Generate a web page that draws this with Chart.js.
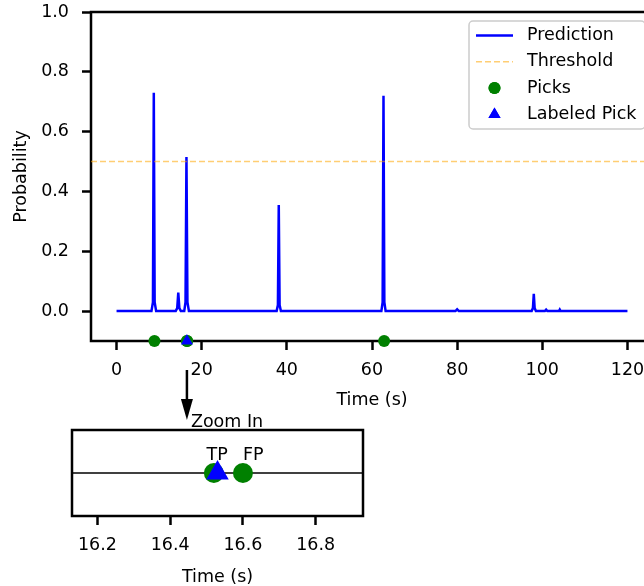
<!DOCTYPE html>
<html>
<head>
<meta charset="utf-8">
<script src="https://cdn.jsdelivr.net/npm/chart.js@4.4.1/dist/chart.umd.min.js"></script>
<style>
html, body { margin: 0; padding: 0; background: #fff; overflow: hidden; }
#wrap { position: relative; width: 644px; height: 586px; overflow: hidden; }
#mainChart { position: absolute; left: 0; top: 0; }
#zoomChart { position: absolute; left: 0; top: 380px; }
</style>
</head>
<body>
<div id="wrap">
  <canvas id="mainChart" width="660" height="440"></canvas>
  <canvas id="zoomChart" width="644" height="210"></canvas>
</div>
<script>
// prediction trace (time in s, probability)
var predTime = [0, 8.2, 8.55, 8.75, 8.95, 9.3, 13.9, 14.25, 14.5, 14.75, 15.1, 15.9, 16.2, 16.42, 16.65, 17.0,
                26, 37.6, 37.9, 38.1, 38.3, 38.6, 62.2, 62.5, 62.7, 62.9, 63.2,
                79.6, 80.0, 80.4, 97.5, 97.8, 98.0, 98.2, 98.5, 100.6, 100.9, 101.2, 103.9, 104.1, 104.3, 120];
var predProb = [0, 0, 0.03, 0.73, 0.03, 0, 0, 0.01, 0.062, 0.01, 0, 0, 0.03, 0.515, 0.03, 0,
                0, 0, 0.02, 0.355, 0.02, 0, 0, 0.03, 0.72, 0.03, 0,
                0, 0.006, 0, 0, 0.01, 0.058, 0.01, 0, 0, 0.005, 0, 0, 0.005, 0, 0];
var threshold = 0.5;
var pickTimes = [8.9, 16.52, 16.60, 62.85];
var labeledPickTimes = [16.53];
var pickLevel = -0.1;

var xLimits = [-6, 126];
var yLimits = [-0.1, 1.0];
var xTicks = [0, 20, 40, 60, 80, 100, 120];
var yTicks = [0.0, 0.2, 0.4, 0.6, 0.8, 1.0];
var legendLabels = ['Prediction', 'Threshold', 'Picks', 'Labeled Pick'];

// zoomed panel
var zoomLimits = [16.13, 16.93];
var zoomTicks = [16.2, 16.4, 16.6, 16.8];
var zoomLabels = ['TP', 'FP'];
var zoomLabelTimes = [16.50, 16.60];
var zoomTitle = 'Zoom In';

var FONT = 'DejaVu Sans';
var FONT_SIZE = 17.5;
var BLUE = '#0000ff';
var GREEN = '#008000';
var ORANGE = 'rgba(255,165,0,0.55)';

Chart.defaults.color = '#000';
Chart.defaults.font.family = FONT;
Chart.defaults.font.size = FONT_SIZE;
Chart.defaults.font.lineHeight = 1.2;

function pts(xs, ys) {
    var out = [];
    for (var i in xs) {
        out.push({ x: xs[i], y: (typeof ys === 'number') ? ys : ys[i] });
    }
    return out;
}

function setTicks(values) {
    return function(scale) {
        scale.ticks = values.map(function(v) { return { value: v }; });
    };
}

var tickGrid = { drawOnChartArea: false, drawTicks: true, tickLength: 9, tickWidth: 2.5, tickColor: '#000' };

var framePlugin = {
    id: 'frame',
    beforeDatasetsDraw: function(chart) {
        var a = chart.chartArea, ctx = chart.ctx;
        ctx.save();
        ctx.strokeStyle = '#000';
        ctx.lineWidth = 2.5;
        ctx.strokeRect(a.left, a.top, a.right - a.left, a.bottom - a.top);
        ctx.restore();
    }
};

var legendPlugin = {
    id: 'boxLegend',
    afterDraw: function(chart) {
        var ctx = chart.ctx, a = chart.chartArea;
        var w = 176, h = 108;
        var x0 = a.right - 8 - w, y0 = a.top + 9;
        ctx.save();
        ctx.beginPath();
        ctx.roundRect(x0, y0, w, h, 4);
        ctx.fillStyle = 'rgba(255,255,255,0.8)';
        ctx.fill();
        ctx.strokeStyle = '#cccccc';
        ctx.lineWidth = 1.5;
        ctx.stroke();

        ctx.font = FONT_SIZE + 'px "' + FONT + '"';
        ctx.textBaseline = 'middle';
        ctx.textAlign = 'left';
        for (var i = 0; i < legendLabels.length; i++) {
            var cy = y0 + 14.5 + i * 26.3;
            var hx = x0 + 7, hw = 37;
            if (i === 0 || i === 1) {
                ctx.beginPath();
                ctx.strokeStyle = i === 0 ? BLUE : ORANGE;
                ctx.lineWidth = i === 0 ? 2.5 : 1.5;
                ctx.setLineDash(i === 0 ? [] : [6, 3]);
                ctx.moveTo(hx, cy);
                ctx.lineTo(hx + hw, cy);
                ctx.stroke();
                ctx.setLineDash([]);
            } else {
                ctx.fillStyle = i === 2 ? GREEN : BLUE;
                Chart.helpers.drawPoint(ctx, { pointStyle: i === 2 ? 'circle' : 'triangle', radius: i === 2 ? 6 : 7, rotation: 0, borderWidth: 0 }, hx + hw / 2, cy);
                ctx.fill();
            }
            ctx.fillStyle = '#000';
            ctx.fillText(legendLabels[i], x0 + 58, cy);
        }

        // arrow down to the zoomed panel
        var ax = chart.scales.x.getPixelForValue(labeledPickTimes[0]);
        var top = a.bottom + 29, tip = a.bottom + 79;
        ctx.strokeStyle = '#000';
        ctx.lineWidth = 2.5;
        ctx.beginPath();
        ctx.moveTo(ax, top);
        ctx.lineTo(ax, tip - 18);
        ctx.stroke();
        ctx.fillStyle = '#000';
        ctx.beginPath();
        ctx.moveTo(ax - 6, tip - 21);
        ctx.lineTo(ax + 6, tip - 21);
        ctx.lineTo(ax, tip);
        ctx.closePath();
        ctx.fill();
        ctx.fillText(zoomTitle, ax + 4, tip + 2);
        ctx.restore();
    }
};

new Chart(document.getElementById('mainChart'), {
    type: 'scatter',
    data: {
        datasets: [{
            label: legendLabels[0],
            data: pts(predTime, predProb),
            showLine: true,
            borderColor: BLUE,
            borderWidth: 2.5,
            pointRadius: 0,
            order: 3
        }, {
            label: legendLabels[1],
            data: pts(xLimits, threshold),
            showLine: true,
            borderColor: ORANGE,
            borderWidth: 1.5,
            borderDash: [6, 3],
            pointRadius: 0,
            order: 2
        }, {
            label: legendLabels[2],
            data: pts(pickTimes, pickLevel),
            pointStyle: 'circle',
            pointRadius: 6,
            backgroundColor: GREEN,
            borderColor: GREEN,
            pointBorderWidth: 0,
            clip: false,
            order: 1
        }, {
            label: legendLabels[3],
            data: pts(labeledPickTimes, pickLevel),
            pointStyle: 'triangle',
            pointRadius: 7,
            backgroundColor: BLUE,
            borderColor: BLUE,
            pointBorderWidth: 0,
            clip: false,
            order: 0
        }]
    },
    options: {
        responsive: false,
        animation: false,
        layout: { padding: { left: 0, top: 12, right: 7, bottom: 0 } },
        plugins: { legend: { display: false }, tooltip: { enabled: false } },
        scales: {
            x: {
                type: 'linear',
                min: xLimits[0],
                max: xLimits[1],
                afterBuildTicks: setTicks(xTicks),
                afterFit: function(scale) { scale.height = 99; scale.paddingLeft = 0; scale.paddingRight = 0; },
                grid: tickGrid,
                border: { display: false },
                ticks: { padding: 10, maxRotation: 0, callback: function(v) { return String(v); } },
                title: { display: true, text: 'Time (s)', padding: { top: 0, bottom: 29 } }
            },
            y: {
                min: yLimits[0],
                max: yLimits[1],
                afterBuildTicks: setTicks(yTicks),
                afterFit: function(scale) { scale.width = 91; scale.paddingTop = 0; scale.paddingBottom = 0; },
                grid: tickGrid,
                border: { display: false },
                ticks: { padding: 13, callback: function(v) { return v.toFixed(1); } },
                title: { display: true, text: 'Probability', padding: { top: 11, bottom: 0 } }
            }
        }
    },
    plugins: [framePlugin, legendPlugin]
});

var zoomTextPlugin = {
    id: 'zoomText',
    afterDraw: function(chart) {
        var ctx = chart.ctx;
        var y0 = chart.scales.y.getPixelForValue(0);
        ctx.save();
        ctx.font = FONT_SIZE + 'px "' + FONT + '"';
        ctx.fillStyle = '#000';
        ctx.textAlign = 'left';
        ctx.textBaseline = 'middle';
        for (var i = 0; i < zoomLabels.length; i++) {
            ctx.fillText(zoomLabels[i], chart.scales.x.getPixelForValue(zoomLabelTimes[i]), y0 - 18);
        }
        ctx.restore();
    }
};

new Chart(document.getElementById('zoomChart'), {
    type: 'scatter',
    data: {
        datasets: [{
            data: pts(zoomLimits, 0),
            showLine: true,
            borderColor: '#000',
            borderWidth: 1.5,
            pointRadius: 0,
            order: 2
        }, {
            data: pts(pickTimes, 0),
            pointStyle: 'circle',
            pointRadius: 10,
            backgroundColor: GREEN,
            borderColor: GREEN,
            pointBorderWidth: 0,
            order: 1
        }, {
            data: pts(labeledPickTimes, 0),
            pointStyle: 'triangle',
            pointRadius: 13,
            backgroundColor: BLUE,
            borderColor: BLUE,
            pointBorderWidth: 0,
            order: 0
        }]
    },
    options: {
        responsive: false,
        animation: false,
        layout: { padding: { left: 72, top: 50, right: 281, bottom: 0 } },
        plugins: { legend: { display: false }, tooltip: { enabled: false } },
        scales: {
            x: {
                type: 'linear',
                min: zoomLimits[0],
                max: zoomLimits[1],
                afterBuildTicks: setTicks(zoomTicks),
                afterFit: function(scale) { scale.height = 74; scale.paddingLeft = 0; scale.paddingRight = 0; },
                grid: tickGrid,
                border: { display: false },
                ticks: { padding: 10, maxRotation: 0, callback: function(v) { return v.toFixed(1); } },
                title: { display: true, text: 'Time (s)', padding: { top: 0, bottom: 2 } }
            },
            y: { display: false, min: -1, max: 1 }
        }
    },
    plugins: [framePlugin, zoomTextPlugin]
});
</script>
</body>
</html>
